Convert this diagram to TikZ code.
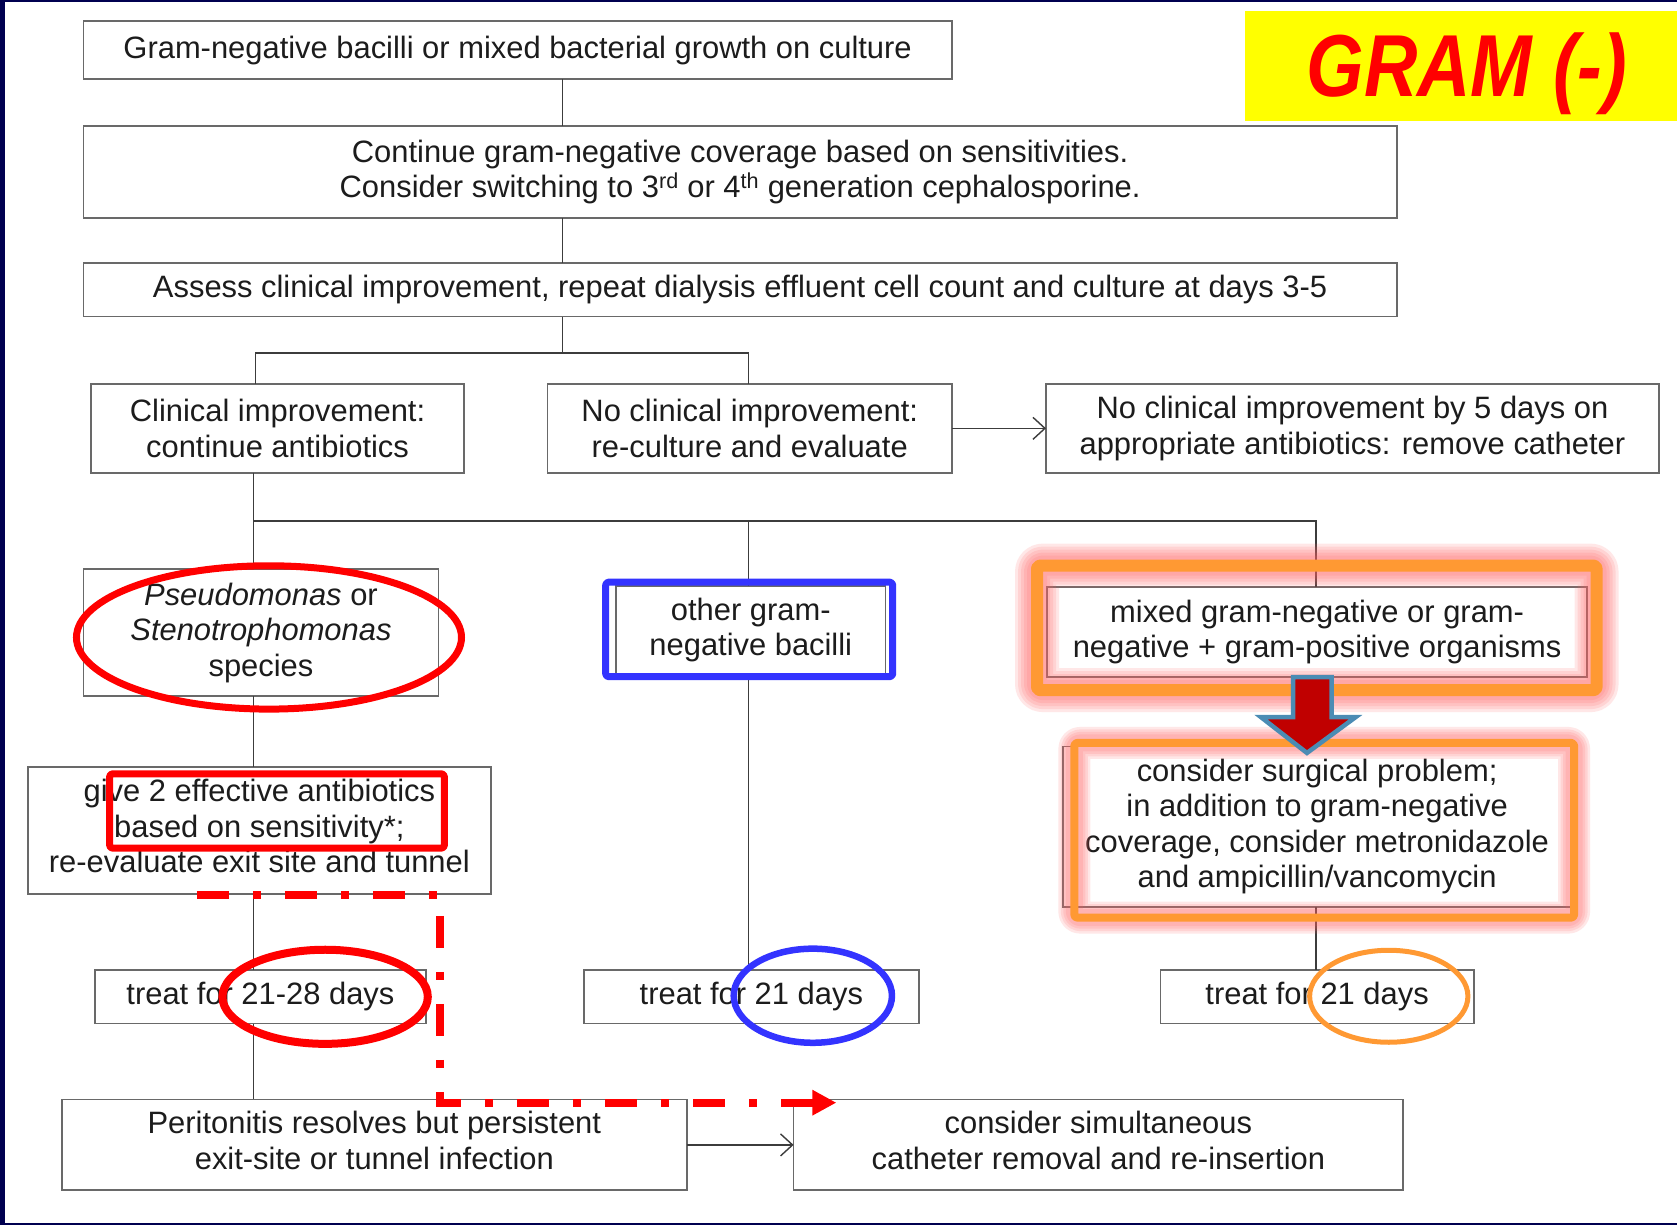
\documentclass[tikz,border=0pt]{standalone}
\usepackage{fontspec}
\setmainfont{Liberation Sans}
\usetikzlibrary{arrows.meta,calc}

\definecolor{framenavy}{RGB}{0,0,80}
\definecolor{boxgray}{RGB}{105,105,105}
\definecolor{linegray}{RGB}{60,60,60}
\definecolor{txt}{RGB}{28,28,28}
\definecolor{hlred}{RGB}{255,0,0}
\definecolor{hlblue}{RGB}{51,51,255}
\definecolor{hlorange}{RGB}{255,153,51}
\definecolor{glowpink}{RGB}{255,100,100}
\definecolor{arrowfill}{RGB}{192,0,0}
\definecolor{arrowedge}{RGB}{75,140,180}
\definecolor{labelyellow}{RGB}{255,255,0}

\tikzset{
  box/.style={draw=boxgray, line width=1.8pt, inner sep=0pt, outer sep=0pt,
    align=center, text=txt, font=\fontsize{30.9}{35.5}\selectfont},
  link/.style={draw=linegray, line width=1.4pt},
  linkarrow/.style={link, -{Straight Barb[length=12pt,width=22pt]}},
  glow/.style={draw=glowpink, opacity=0.15, line join=round, rounded corners=6pt},
  hlframe/.style={line join=round, rounded corners=3pt},
}

% a box given by its corners (left, top, right, bottom) in drawing units
\newcommand\flowcell[6]{%
  \node[box, minimum width={(#4-#2)*1.0695pt}, minimum height={(#5-#3)*1.0695pt}]
    (#1) at ({(#2+#4)/2},{(#3+#5)/2}) {#6};}
% invisible depth below a last line, lifting the text block a little
\newcommand\lifttext{\rule[-9pt]{0pt}{1pt}}

\begin{document}
\begin{tikzpicture}[x=1.0695pt,y=-1.0695pt]
\useasboundingbox (0,0) rectangle (1568,1145);
\fill[white] (0,0) rectangle (1568,1145);

% slide frame
\fill[framenavy] (0,0) rectangle (4.7,1145);
\fill[framenavy] (0,0) rectangle (1568,1.9);
\fill[framenavy] (0,1143.4) rectangle (1568,1145);

% title badge
\fill[labelyellow] (1164,10.3) rectangle (1568,113);
\node[anchor=base, text=hlred, inner sep=0pt,
      font=\fontsize{88}{90}\selectfont\bfseries\itshape] (gram) at (1371.5,90.5)
      {\scalebox{0.84}[1]{GRAM (-)}};

% flow boxes
\flowcell{b1}{78}{20}{890}{74}
  {Gram-negative bacilli or mixed bacterial growth on culture}
\flowcell{b2}{78}{118}{1306}{204}
  {Continue gram-negative coverage based on sensitivities.\\
   Consider switching to 3\textsuperscript{rd} or 4\textsuperscript{th} generation cephalosporine.}
\flowcell{b3}{78}{246}{1306}{296}
  {Assess clinical improvement, repeat dialysis effluent cell count and culture at days 3-5}
\flowcell{c1}{85}{359}{434}{442}{Clinical improvement:\\continue antibiotics}
\flowcell{c2}{512}{359}{890}{442}{No clinical improvement:\\re-culture and evaluate}
\flowcell{c3}{978}{359}{1551}{442}
  {No clinical improvement by 5 days on\\appropriate antibiotics: remove catheter}
\flowcell{o1}{78}{532}{410}{651}
  {\textit{Pseudomonas} or\\\textit{Stenotrophomonas}\\species}
\flowcell{o2}{576}{548}{828}{630}{other gram-\\negative bacilli}
\flowcell{o3}{979}{549}{1484}{633}
  {mixed gram-negative or gram-\\negative + gram-positive organisms}
\flowcell{t1}{26}{717}{459}{836}
  {give 2 effective antibiotics\\based on sensitivity*;\\re-evaluate exit site and tunnel\lifttext}
\flowcell{t3}{994}{698}{1469}{848}
  {consider surgical problem;\\in addition to gram-negative\\coverage, consider metronidazole\\and ampicillin/vancomycin}
\flowcell{d1}{89}{907}{398}{957}{treat for 21-28 days}
\flowcell{d2}{546}{907}{859}{957}{treat for 21 days}
\flowcell{d3}{1085}{907}{1378}{957}{treat for 21 days}
\flowcell{p1}{58}{1028}{642}{1113}
  {Peritonitis resolves but persistent\\exit-site or tunnel infection\lifttext}
\flowcell{p2}{742}{1028}{1312}{1113}
  {consider simultaneous\\catheter removal and re-insertion\lifttext}

% connector columns and junctions
\coordinate (xm) at (526,0);
\coordinate (xL) at (239,0);
\coordinate (xL2) at (237,0);
\coordinate (xC) at (700,0);
\coordinate (xR) at (1230.5,0);
\coordinate (s1) at (526,330);
\coordinate (s2) at (237,487);

\draw[link] (b1.south -| xm) -- (b2.north -| xm);
\draw[link] (b2.south -| xm) -- (b3.north -| xm);
\draw[link] (b3.south -| xm) -- (s1);
\draw[link] (c1.north -| xL) -- (xL |- s1) -- (xC |- s1) -- (c2.north -| xC);
\draw[linkarrow] (c2.east) -- (c3.west);

\draw[link] (c1.south -| xL2) -- (s2) -- (xR |- s2) -- (o3.north -| xR);
\draw[link] (xC |- s2) -- (o2.north -| xC);
\draw[link] (s2) -- (o1.north -| xL2);
\draw[link] (o1.south -| xL2) -- (t1.north -| xL2);
\draw[link] (t1.south -| xL2) -- (d1.north -| xL2);
\draw[link] (d1.south -| xL2) -- (p1.north -| xL2);
\draw[link] (o2.south -| xC) -- (d2.north -| xC);
\draw[link] (o3.south -| xR) -- (t3.north -| xR);
\draw[link] (t3.south -| xR) -- (d3.north -| xR);
\draw[linkarrow] (p1.east) -- (p2.west);

% glowing orange frames
\foreach \w in {44,38,32,26,20}
  \draw[glow, line width=\w pt] (969.6,528.8) rectangle (1492.8,645.3);
\draw[hlorange, hlframe, line width=12pt] (969.6,528.8) rectangle (1492.8,645.3);
\foreach \w in {32,27,22,17}
  \draw[glow, line width=\w pt] (1004.5,694.6) rectangle (1471.8,858);
\draw[hlorange, hlframe, line width=8pt] (1004.5,694.6) rectangle (1471.8,858);

% block arrow between the orange frames
\draw[fill=arrowfill, draw=arrowedge, line width=4.5pt, line join=miter]
  (1209,633) -- (1245,633) -- (1245,670.5) -- (1267.5,670.5) -- (1222,704)
  -- (1179,670.5) -- (1209,670.5) -- cycle;

% highlight marks
\draw[hlblue, hlframe, line width=7pt] (566.3,544.3) rectangle (834.7,632.7);
\draw[hlred, hlframe, line width=7pt] (102.5,723.5) rectangle (415.5,793);
\draw[hlred, line width=7pt] (251.5,596) ellipse [x radius=180, y radius=67];
\draw[hlred, line width=8pt] (304,932) ellipse [x radius=96, y radius=44];
\draw[hlblue, line width=6.5pt] (760,931) ellipse [x radius=74, y radius=44];
\draw[hlorange, line width=5pt] (1298.5,931.5) ellipse [x radius=74, y radius=43];

% dash-dot route to catheter replacement
\coordinate (r0) at (184,837);
\coordinate (r1) at (411.4,837);
\coordinate (r2) at (411.4,1031);
\coordinate (r3) at (782,1031);
\draw[hlred, line width=8pt, dash pattern=on 32pt off 24pt on 8pt off 24pt,
      -{Triangle[length=24pt,width=24pt]}] (r0) -- (r1) -- (r2) -- (r3);
\end{tikzpicture}
\end{document}
